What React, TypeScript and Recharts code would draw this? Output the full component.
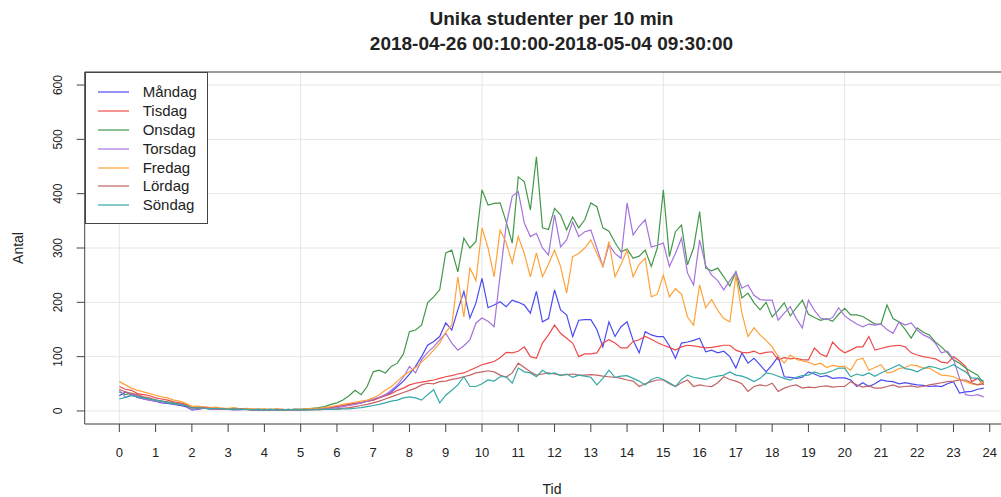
import React from 'react';
import { LineChart, Line, XAxis, YAxis, CartesianGrid, Legend, ReferenceLine } from 'recharts';

// 10-minute slots, 00:00 - 23:50
const times = Array.from({ length: 144 }, (_, i) => i / 6);

const xTicks = [0, 1, 2, 3, 4, 5, 6, 7, 8, 9, 10, 11, 12, 13, 14, 15, 16, 17, 18, 19, 20, 21, 22, 23, 24];
const yTicks = [0, 100, 200, 300, 400, 500, 600];
const xGrid = [0, 5, 10, 15, 20];

const mandag = [
  28, 35, 30, 25, 22, 20, 18, 15, 14, 12, 10, 8, 2, 3, 5, 4, 3, 4, 3, 2, 3, 3, 2, 2,
  2, 3, 2, 2, 2, 3, 3, 3, 4, 4, 5, 6, 8, 10, 12, 14, 15, 18, 20, 25, 28, 35, 45, 55,
  68, 82, 100, 121, 128, 137, 162, 149, 186, 220, 171, 199, 244, 190, 195, 201, 192, 204, 200, 195, 180, 220, 164, 170,
  223, 186, 177, 137, 167, 168, 168, 150, 118, 164, 137, 155, 164, 130, 107, 146, 140, 137, 137, 120, 97, 125, 127, 130,
  134, 109, 112, 107, 110, 100, 79, 107, 88, 97, 85, 72, 85, 100, 63, 62, 60, 62, 72, 68, 63, 65, 60, 61,
  61, 57, 45, 52, 45, 50, 57, 55, 54, 50, 52, 50, 48, 47, 45, 46, 45, 50, 54, 33, 35, 36, 40, 42,
];

const tisdag = [
  45, 40, 38, 32, 30, 28, 24, 22, 20, 17, 15, 12, 8, 6, 7, 6, 5, 5, 4, 5, 4, 4, 3, 3,
  3, 2, 3, 3, 2, 3, 2, 3, 3, 4, 5, 6, 8, 10, 12, 14, 15, 18, 20, 24, 28, 32, 38, 42,
  48, 51, 53, 55, 57, 60, 63, 65, 68, 70, 75, 80, 85, 88, 91, 98, 108, 107, 110, 118, 100, 97, 125, 140,
  158, 143, 134, 125, 100, 105, 105, 107, 125, 131, 125, 116, 116, 128, 131, 137, 132, 126, 121, 117, 112, 118, 121, 120,
  118, 116, 117, 119, 121, 121, 112, 108, 107, 110, 105, 108, 109, 94, 98, 96, 97, 94, 94, 116, 105, 100, 127, 115,
  107, 112, 118, 118, 137, 112, 115, 118, 120, 121, 118, 107, 103, 100, 98, 96, 90, 88, 100, 92, 82, 54, 60, 48,
];

const onsdag = [
  35, 30, 33, 28, 25, 22, 20, 18, 17, 15, 12, 10, 6, 5, 6, 4, 5, 4, 4, 3, 4, 3, 3, 2,
  3, 2, 3, 2, 2, 3, 3, 4, 5, 6, 8, 12, 15, 20, 28, 38, 30, 45, 72, 75, 70, 82, 88, 105,
  146, 149, 158, 199, 210, 223, 291, 296, 256, 318, 300, 312, 407, 379, 382, 383, 348, 309, 431, 422, 370, 468, 337, 334,
  373, 361, 333, 357, 337, 352, 383, 376, 337, 331, 310, 293, 298, 281, 285, 296, 266, 300, 407, 284, 330, 342, 269, 300,
  367, 263, 258, 263, 247, 230, 256, 208, 217, 199, 186, 200, 173, 185, 199, 175, 190, 204, 178, 172, 167, 170, 165, 178,
  189, 177, 177, 174, 167, 160, 160, 195, 170, 164, 150, 134, 153, 145, 140, 127, 118, 107, 94, 88, 79, 72, 66, 51,
];

const torsdag = [
  38, 25, 30, 28, 22, 20, 18, 16, 15, 13, 12, 10, 2, 4, 5, 4, 3, 4, 3, 3, 2, 3, 2, 2,
  2, 3, 2, 2, 3, 2, 2, 2, 3, 3, 4, 5, 6, 8, 10, 12, 15, 18, 22, 25, 30, 38, 48, 62,
  82, 70, 94, 108, 118, 131, 143, 125, 112, 120, 131, 162, 171, 165, 155, 250, 342, 395, 404, 346, 321, 327, 300, 287,
  361, 302, 315, 348, 321, 330, 333, 300, 266, 306, 290, 281, 383, 324, 340, 352, 302, 305, 309, 266, 290, 318, 254, 232,
  315, 268, 250, 240, 223, 240, 256, 226, 232, 213, 205, 204, 204, 167, 180, 192, 170, 153, 204, 185, 171, 168, 172, 190,
  175, 167, 160, 155, 160, 158, 160, 150, 143, 164, 158, 162, 149, 140, 135, 125, 107, 110, 95, 60, 30, 28, 30, 26,
];

const fredag = [
  54, 48, 42, 38, 35, 32, 29, 26, 24, 20, 18, 14, 8, 9, 7, 6, 7, 5, 5, 6, 4, 5, 4, 3,
  4, 3, 4, 3, 2, 3, 3, 4, 5, 5, 6, 8, 10, 12, 14, 16, 18, 20, 24, 30, 38, 45, 55, 65,
  72, 80, 90, 100, 112, 125, 145, 158, 247, 173, 263, 240, 337, 300, 247, 333, 310, 272, 321, 290, 247, 291, 247, 270,
  296, 266, 217, 284, 290, 300, 315, 290, 266, 312, 247, 270, 296, 247, 270, 281, 210, 215, 250, 210, 225, 215, 173, 158,
  232, 190, 205, 185, 170, 164, 250, 180, 137, 153, 140, 130, 118, 100, 88, 103, 95, 92, 90, 85, 88, 80, 84, 82,
  82, 75, 94, 97, 75, 80, 85, 70, 72, 78, 80, 85, 83, 79, 79, 72, 66, 65, 63, 58, 54, 50, 48, 54,
];

const lordag = [
  40, 35, 32, 30, 26, 24, 20, 18, 16, 14, 12, 10, 6, 5, 6, 5, 4, 4, 3, 3, 4, 3, 2, 3,
  2, 2, 3, 2, 2, 2, 2, 2, 3, 2, 3, 3, 4, 5, 6, 8, 10, 12, 15, 18, 22, 26, 30, 34,
  38, 42, 48, 51, 50, 54, 55, 58, 60, 63, 66, 70, 72, 74, 72, 66, 62, 70, 88, 80, 72, 66, 68, 70,
  68, 66, 67, 68, 66, 66, 67, 66, 64, 63, 62, 60, 57, 55, 45, 50, 54, 57, 57, 50, 45, 52, 57, 45,
  48, 46, 45, 52, 63, 58, 55, 50, 36, 45, 48, 46, 51, 36, 42, 46, 48, 42, 44, 43, 45, 46, 44, 45,
  45, 54, 48, 44, 46, 42, 42, 45, 48, 44, 45, 46, 44, 45, 48, 50, 52, 54, 55, 57, 57, 52, 48, 50,
];

const sondag = [
  22, 25, 28, 26, 24, 22, 20, 18, 15, 14, 12, 10, 5, 6, 5, 4, 5, 4, 3, 4, 3, 3, 2, 3,
  2, 3, 2, 2, 3, 2, 2, 2, 2, 3, 3, 3, 3, 4, 4, 5, 6, 8, 10, 12, 15, 18, 20, 24,
  26, 24, 20, 30, 39, 15, 29, 38, 48, 63, 45, 45, 50, 57, 55, 63, 63, 51, 79, 72, 70, 63, 75, 68,
  70, 65, 68, 62, 66, 64, 62, 48, 60, 75, 62, 64, 65, 60, 55, 48, 58, 62, 58, 52, 45, 58, 66, 62,
  60, 58, 62, 64, 66, 72, 66, 64, 60, 54, 60, 70, 68, 64, 60, 57, 62, 65, 66, 72, 68, 70, 74, 79,
  79, 63, 68, 65, 70, 64, 70, 75, 80, 85, 78, 76, 72, 78, 82, 80, 76, 80, 85, 78, 72, 61, 60, 55,
];

const series = [
  { key: 'mandag', name: 'Måndag', color: '#4b4bf2', values: mandag },
  { key: 'tisdag', name: 'Tisdag', color: '#ef4a4a', values: tisdag },
  { key: 'onsdag', name: 'Onsdag', color: '#44984a', values: onsdag },
  { key: 'torsdag', name: 'Torsdag', color: '#a474dc', values: torsdag },
  { key: 'fredag', name: 'Fredag', color: '#ffa23a', values: fredag },
  { key: 'lordag', name: 'Lördag', color: '#c46464', values: lordag },
  { key: 'sondag', name: 'Söndag', color: '#35a9a6', values: sondag },
];

const data = times.map((t, i) => {
  const row: Record<string, number> = { t };
  series.forEach((s) => {
    row[s.key] = s.values[i];
  });
  return row;
});

const FONT = '"Liberation Sans", Arial, Helvetica, sans-serif';
const INK = '#222';
const FRAME = '#444';

function YTick({ x, y, payload }: any) {
  const tx = x - 13;
  return (
    <text x={tx} y={y} transform={`rotate(-90 ${tx} ${y})`} textAnchor="middle" fontSize={12} fill={INK} fontFamily={FONT}>
      {payload.value}
    </text>
  );
}

// legend keeps the weekday order (Recharts would sort it by name)
function LegendBox() {
  return (
    <div
      style={{
        width: 123,
        height: 152,
        boxSizing: 'border-box',
        border: `1px solid ${FRAME}`,
        background: '#fff',
        paddingTop: 10,
        fontFamily: FONT,
        fontSize: 15,
        color: INK,
      }}
    >
      {series.map((s) => (
        <div key={s.key} style={{ display: 'flex', alignItems: 'center', height: 18.8 }}>
          <svg width={31} height={4} style={{ marginLeft: 12, marginRight: 14, display: 'block' }}>
            <line x1={0} y1={2} x2={31} y2={2} stroke={s.color} strokeWidth={1.2} />
          </svg>
          <span style={{ lineHeight: '18px' }}>{s.name}</span>
        </div>
      ))}
    </div>
  );
}

export default function App() {
  return (
    <div style={{ position: 'absolute', left: 0, top: 0, width: 1001, height: 497, overflow: 'hidden', background: '#fff', fontFamily: FONT }}>
      <div style={{ position: 'absolute', top: 8, left: 0, width: 1103, textAlign: 'center', fontWeight: 'bold', fontSize: 19, color: INK }}>
        Unika studenter per 10 min
      </div>
      <div style={{ position: 'absolute', top: 33, left: 0, width: 1103, textAlign: 'center', fontWeight: 'bold', fontSize: 19, color: INK }}>
        2018-04-26 00:10:00-2018-05-04 09:30:00
      </div>
      <div style={{ position: 'absolute', left: 18, top: 248, transform: 'translate(-50%, -50%) rotate(-90deg)', fontSize: 14, color: INK }}>
        Antal
      </div>
      <div style={{ position: 'absolute', left: 552, top: 489, transform: 'translate(-50%, -50%)', fontSize: 14, color: INK }}>
        Tid
      </div>
      <div style={{ position: 'absolute', left: 0, top: 0 }}>
        <LineChart width={1040} height={497} data={data} margin={{ top: 72, right: 21.6, bottom: 0, left: 0 }}>
          <CartesianGrid vertical={false} stroke="#e6e6e6" />
          {xGrid.map((g) => (
            <ReferenceLine key={g} x={g} stroke="#e6e6e6" />
          ))}
          <ReferenceLine y={624} stroke={FRAME} />
          <XAxis
            dataKey="t"
            type="number"
            domain={[-0.955, 24.79]}
            ticks={xTicks}
            interval={0}
            height={73}
            tickSize={8}
            tickMargin={16}
            axisLine={{ stroke: FRAME }}
            tickLine={{ stroke: FRAME }}
            tick={{ fontSize: 13, fill: INK, fontFamily: FONT }}
          />
          <YAxis
            type="number"
            domain={[-24, 624]}
            ticks={yTicks}
            interval={0}
            width={84.7}
            tickSize={8}
            axisLine={{ stroke: FRAME }}
            tickLine={{ stroke: FRAME }}
            tick={<YTick />}
          />
          <Legend
            layout="vertical"
            align="center"
            verticalAlign="middle"
            content={<LegendBox />}
            wrapperStyle={{ left: 84.7, top: 72, width: 123, height: 152 }}
          />
          {series.map((s) => (
            <Line
              key={s.key}
              type="linear"
              dataKey={s.key}
              name={s.name}
              stroke={s.color}
              strokeWidth={1.2}
              dot={false}
              isAnimationActive={false}
            />
          ))}
        </LineChart>
      </div>
    </div>
  );
}
